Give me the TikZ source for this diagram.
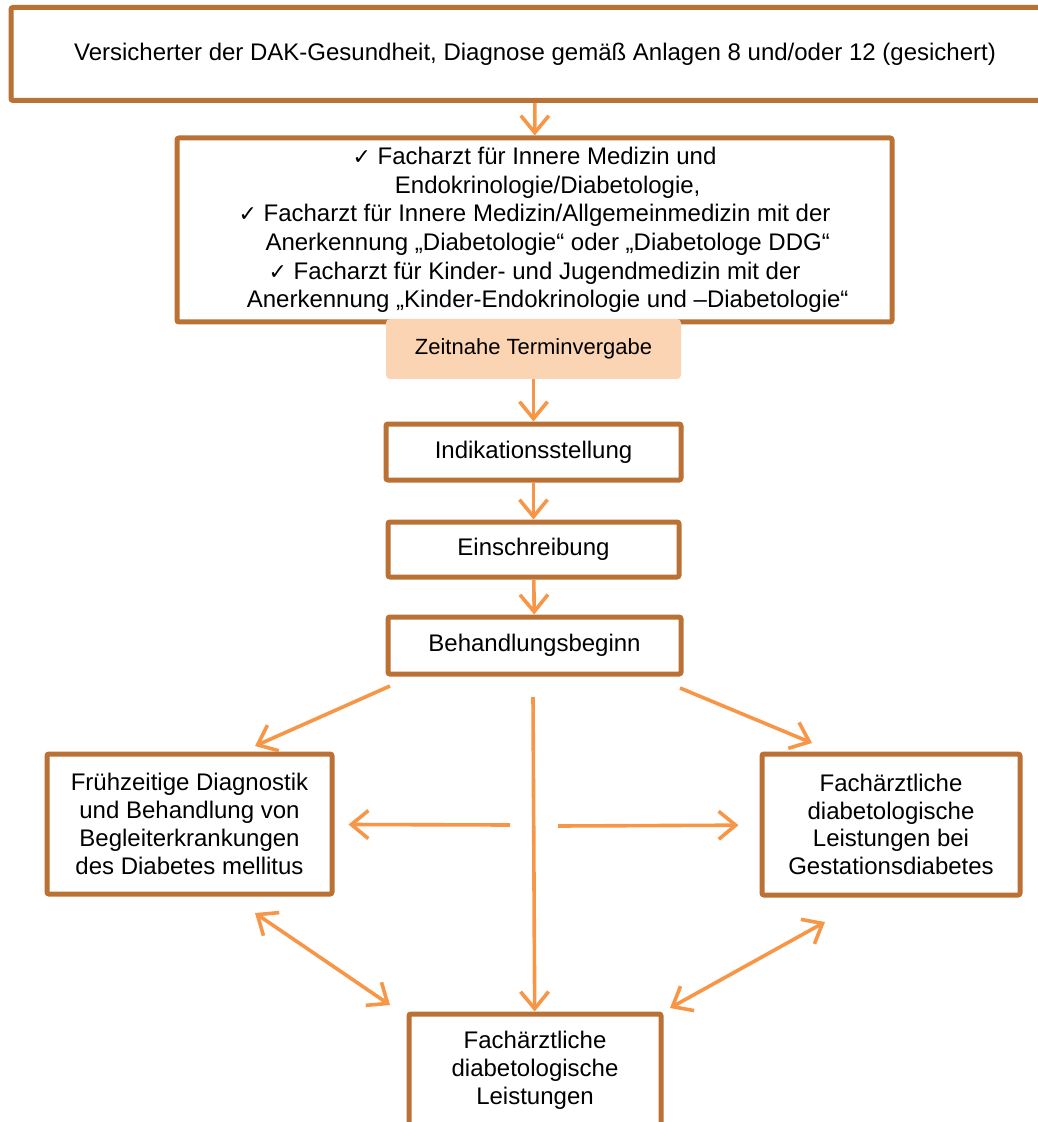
\documentclass[tikz,border=0pt]{standalone}
\usepackage{fontspec}
\setmainfont{Liberation Sans}
\newfontfamily\checkfont{DejaVu Sans}
\usetikzlibrary{arrows.meta}
\definecolor{boxbrown}{RGB}{187,113,51}
\definecolor{arrorange}{RGB}{247,150,70}
\definecolor{peach}{RGB}{251,212,180}
\newcommand{\chk}{{\checkfont\fontsize{11}{12}\selectfont ✓}}
\begin{document}
\begin{tikzpicture}[x=0.5pt,y=-0.5pt,
    kasten/.style={draw=boxbrown,line width=2.5pt,fill=white,rounded corners=1pt,inner sep=0pt,align=center,font=\fontsize{12}{13.9}\selectfont},
    pfeil/.style={draw=arrorange,line width=1.8pt,-{Straight Barb[length=8.5pt,width=14pt]}},
    doppelpfeil/.style={pfeil,{Straight Barb[length=8.5pt,width=14pt]}-{Straight Barb[length=8.5pt,width=14pt]}}]
    \useasboundingbox (0,0) rectangle (1037,1122);
    \node[kasten,minimum width=524pt,minimum height=46.5pt] (versichert) at (535,54) {Versicherter der DAK-Gesundheit, Diagnose gemäß Anlagen 8 und/oder 12 (gesichert)};
    \node[kasten,minimum width=357.5pt,minimum height=92pt,font=\fontsize{12}{14.3}\selectfont] (fachaerzte) at (534.5,230) {\chk\ Facharzt für Innere Medizin und\\
        \hspace*{1.1em}Endokrinologie/Diabetologie,\\
        \chk\ Facharzt für Innere Medizin/Allgemeinmedizin mit der\\
        \hspace*{1.1em}Anerkennung „Diabetologie“ oder „Diabetologe DDG“\\
        \chk\ Facharzt für Kinder- und Jugendmedizin mit der\\
        \hspace*{1.1em}Anerkennung „Kinder-Endokrinologie und –Diabetologie“};
    \node[fill=peach,rounded corners=2pt,inner sep=0pt,minimum width=147.5pt,minimum height=30pt,font=\fontsize{11}{13}\selectfont] (termin) at (533.5,349) {Zeitnahe Terminvergabe};
    \node[kasten,minimum width=147.5pt,minimum height=28pt] (indikation) at (533.5,452) {Indikationsstellung};
    \node[kasten,minimum width=145.5pt,minimum height=27.5pt] (einschreibung) at (533.5,549.5) {Einschreibung};
    \node[kasten,minimum width=146.5pt,minimum height=28.5pt] (behandlung) at (534.5,645.5) {Behandlungsbeginn};
    \node[kasten,minimum width=142.5pt,minimum height=70pt] (begleit) at (189.5,824) {Frühzeitige Diagnostik\\und Behandlung von\\Begleiterkrankungen\\des Diabetes mellitus};
    \node[kasten,minimum width=129pt,minimum height=70.5pt] (gestation) at (891,824.5) {Fachärztliche\\diabetologische\\Leistungen bei\\Gestationsdiabetes};
    \node[kasten,minimum width=126pt,minimum height=56pt] (leistungen) at (535,1070) {Fachärztliche\\diabetologische\\Leistungen};
    \coordinate (linksoben) at (390,686);
    \coordinate (linksziel) at (255,746);
    \coordinate (rechtsoben) at (680,688);
    \coordinate (rechtsziel) at (812,743);
    \coordinate (mitte) at (533,697);
    \coordinate (mittelinks) at (510,825);
    \coordinate (mitterechts) at (558,826);
    \coordinate (linksunten) at (255,913);
    \coordinate (untenlinks) at (390,1005);
    \coordinate (rechtsunten) at (825,922);
    \coordinate (untenrechts) at (670,1008);
    \draw[pfeil] (versichert) -- (fachaerzte);
    \draw[pfeil] (termin) -- (indikation);
    \draw[pfeil] (indikation) -- (einschreibung);
    \draw[pfeil] (einschreibung) -- (behandlung);
    \draw[pfeil] (linksoben) -- (linksziel);
    \draw[pfeil] (rechtsoben) -- (rechtsziel);
    \draw[pfeil] (mitte) -- (leistungen);
    \draw[pfeil,shorten >=7pt] (mittelinks) -- (begleit);
    \draw[pfeil,shorten >=10.5pt] (mitterechts) -- (gestation);
    \draw[doppelpfeil] (linksunten) -- (untenlinks);
    \draw[doppelpfeil] (rechtsunten) -- (untenrechts);
\end{tikzpicture}
\end{document}
